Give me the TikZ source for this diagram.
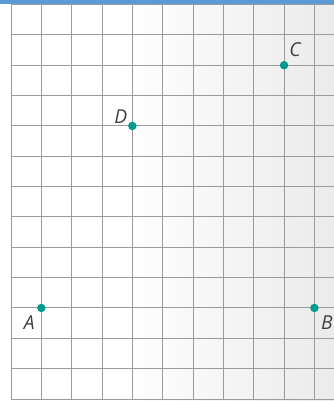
\documentclass[tikz,border=0pt]{standalone}
\usepackage{fontspec}
\setsansfont{Open Sans}
\definecolor{dotteal}{RGB}{0,155,140}
\definecolor{topblue}{RGB}{91,155,213}
\definecolor{gridgray}{RGB}{155,155,155}
\begin{document}
\begin{tikzpicture}[
  pt/.style={circle, fill=dotteal, inner sep=0pt, minimum size=0.28cm},
  lbl/.style={font=\sffamily\itshape\fontsize{18}{19}\selectfont, text=black!75, inner sep=0pt}]
  \useasboundingbox (-0.362,-0.066) rectangle (10.64,13.15);
  \shade[left color=white, right color=black!8] (3.6,-0.066) rectangle (10.64,13.15);
  \begin{scope}
    \clip (-0.362,-0.066) rectangle (10.64,13.15);
    \draw[gridgray, line width=0.9pt] (0,0) grid (11,13);
  \end{scope}
  \fill[topblue] (-0.362,13.03) rectangle (10.64,13.15);
  % points
  \node[pt] (A) at (1,3) {};
  \node[pt] (B) at (10,3) {};
  \node[pt] (C) at (9,11) {};
  \node[pt] (D) at (4,9) {};
  \node[lbl] (labelA) at (0.6,2.5) {A};
  \node[lbl] (labelB) at (10.41,2.5) {B};
  \node[lbl] (labelC) at (9.36,11.5) {C};
  \node[lbl] (labelD) at (3.62,9.32) {D};
\end{tikzpicture}
\end{document}
